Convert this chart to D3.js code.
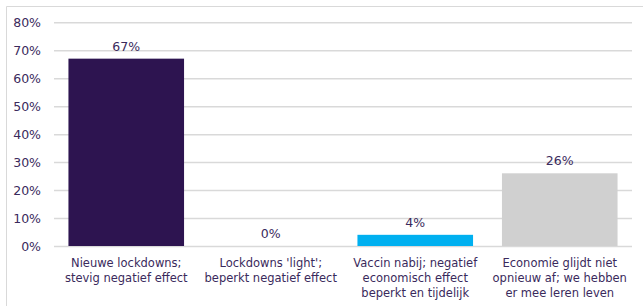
<!DOCTYPE html>
<html><head><meta charset="utf-8">
<script src="https://cdn.jsdelivr.net/npm/d3@7"></script>
<style>body{margin:0;background:#fff}svg{display:block}</style>
</head><body><svg id="c" width="643" height="306"></svg>
<script>
const categories = [
  ["Nieuwe lockdowns;", "stevig negatief effect"],
  ["Lockdowns 'light';", "beperkt negatief effect"],
  ["Vaccin nabij; negatief", "economisch effect", "beperkt en tijdelijk"],
  ["Economie glijdt niet", "opnieuw af; we hebben", "er mee leren leven"]
];
const values = [67, 0, 4, 26];
const colors = ["#2d1450", "#2d1450", "#00b0f0", "#d0d0d0"];
const yTicks = [0, 10, 20, 30, 40, 50, 60, 70, 80];

const svg = d3.select("#c");
const font = "'DejaVu Sans', Verdana, sans-serif";
const textColor = "#3a2a5c";
const L = 54, R = 632, T = 22.3, B = 246;

svg.append("path").attr("d", "M6.5,306V6.5H643").attr("fill","none").attr("stroke","#d9d9d9").attr("stroke-width",1);

const x = d3.scaleBand().domain(d3.range(categories.length)).range([L, R]).paddingInner(0.2).paddingOuter(0.1);
const y = d3.scaleLinear().domain([0, 80]).range([B, T]);

const yAxis = svg.append("g").attr("transform", `translate(${L},0)`)
  .call(d3.axisLeft(y).tickValues(yTicks).tickFormat(d => d + "%").tickSize(-(R - L)).tickPadding(13));
yAxis.select(".domain").remove();
yAxis.selectAll("line").attr("stroke", "#d9d9d9").attr("stroke-width", 1.5);
yAxis.selectAll("text").attr("fill", textColor).attr("font-family", font).attr("font-size", "12.5px");

svg.selectAll("rect.bar").data(values).join("rect").attr("class","bar")
  .attr("x", (d,i) => x(i)).attr("width", x.bandwidth())
  .attr("y", d => y(d)).attr("height", d => B - y(d))
  .attr("fill", (d,i) => colors[i]);

svg.selectAll("text.val").data(values).join("text").attr("class","val")
  .attr("x", (d,i) => x(i) + x.bandwidth()/2).attr("y", d => y(d) - 8)
  .attr("text-anchor","middle").attr("fill", textColor).attr("font-family", font).attr("font-size","12.5px")
  .text(d => d + "%");

const lab = svg.selectAll("text.cat").data(categories).join("text").attr("class","cat")
  .attr("text-anchor","middle").attr("fill", textColor).attr("font-family", font).attr("font-size","11.5px");
lab.each(function(lines, i){
  const t = d3.select(this);
  lines.forEach((s, k) => t.append("tspan").attr("x", x(i) + x.bandwidth()/2).attr("y", 267 + k*15).text(s));
});
</script></body></html>
